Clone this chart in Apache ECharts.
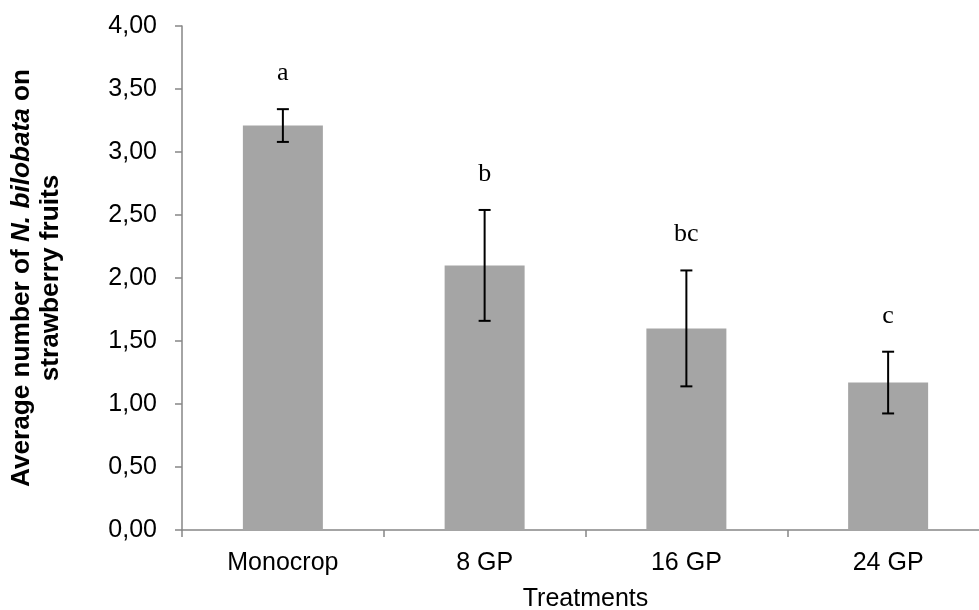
<!DOCTYPE html>
<html>
<head>
<meta charset="utf-8">
<script src="https://cdn.jsdelivr.net/npm/echarts@6/dist/echarts.min.js"></script>
<style>
html,body{margin:0;padding:0;background:#fff;}
#chart{width:979px;height:610px;}
</style>
</head>
<body>
<div id="chart"></div>
<script>
var categories = ['Monocrop', '8 GP', '16 GP', '24 GP'];
var means = [3.21, 2.10, 1.60, 1.17];
var errors = [0.13, 0.44, 0.46, 0.245];
var letters = ['a', 'b', 'bc', 'c'];
var yMin = 0, yMax = 4, yStep = 0.5;

var errData = means.map(function (m, i) { return [i, m - errors[i], m + errors[i], letters[i]]; });

var chart = echarts.init(document.getElementById('chart'));
chart.setOption({
  animation: false,
  backgroundColor: '#fff',
  grid: { left: 182, right: -10, top: 26, bottom: 80, containLabel: false, outerBoundsMode: 'none' },
  xAxis: {
    type: 'category',
    data: categories,
    name: 'Treatments',
    nameLocation: 'middle',
    nameGap: 57,
    nameTextStyle: { fontFamily: 'Liberation Sans', fontSize: 25, color: '#000' },
    axisLine: { lineStyle: { color: '#868686', width: 1.5 } },
    axisTick: { show: true, inside: false, length: 7, alignWithLabel: false, lineStyle: { color: '#868686', width: 1.5 } },
    axisLabel: { fontFamily: 'Liberation Sans', fontSize: 25, color: '#000', margin: 21 },
    splitLine: { show: false }
  },
  yAxis: {
    type: 'value',
    min: yMin, max: yMax, interval: yStep,
    name: '{b|Average number of }{i|N. bilobata}{b| on}\n{b|strawberry fruits}',
    nameLocation: 'middle',
    nameRotate: 90,
    nameGap: 117,
    nameTextStyle: {
      align: 'center',
      lineHeight: 29,
      rich: {
        b: { fontFamily: 'Liberation Sans', fontWeight: 'bold', fontSize: 26.2, color: '#000', lineHeight: 29 },
        i: { fontFamily: 'Liberation Sans', fontWeight: 'bold', fontStyle: 'italic', fontSize: 26.2, color: '#000', lineHeight: 29 }
      }
    },
    axisLine: { show: true, lineStyle: { color: '#868686', width: 1.5 } },
    axisTick: { show: true, inside: false, length: 7, lineStyle: { color: '#868686', width: 1.5 } },
    axisLabel: {
      fontFamily: 'Liberation Sans', fontSize: 25, color: '#000', margin: 25,
      formatter: function (v) { return v.toFixed(2).replace('.', ','); }
    },
    splitLine: { show: false }
  },
  series: [
    {
      type: 'bar',
      data: means,
      barWidth: 80,
      itemStyle: { color: '#a5a5a5' }
    },
    {
      type: 'custom',
      data: errData,
      z: 10,
      renderItem: function (params, api) {
        var lo = api.coord([api.value(0), api.value(1)]);
        var hi = api.coord([api.value(0), api.value(2)]);
        var x = lo[0];
        var cap = 6;
        var st = { stroke: '#000', lineWidth: 2 };
        return {
          type: 'group',
          children: [
            { type: 'line', shape: { x1: x, y1: lo[1], x2: x, y2: hi[1] }, style: st },
            { type: 'line', shape: { x1: x - cap, y1: lo[1], x2: x + cap, y2: lo[1] }, style: st },
            { type: 'line', shape: { x1: x - cap, y1: hi[1], x2: x + cap, y2: hi[1] }, style: st },
            { type: 'text', x: x, y: hi[1] - 36, style: {
                text: letters[params.dataIndex], fill: '#000',
                font: '26px "Liberation Serif"', textAlign: 'center', textVerticalAlign: 'middle'
            } }
          ]
        };
      }
    }
  ]
});
</script>
</body>
</html>
